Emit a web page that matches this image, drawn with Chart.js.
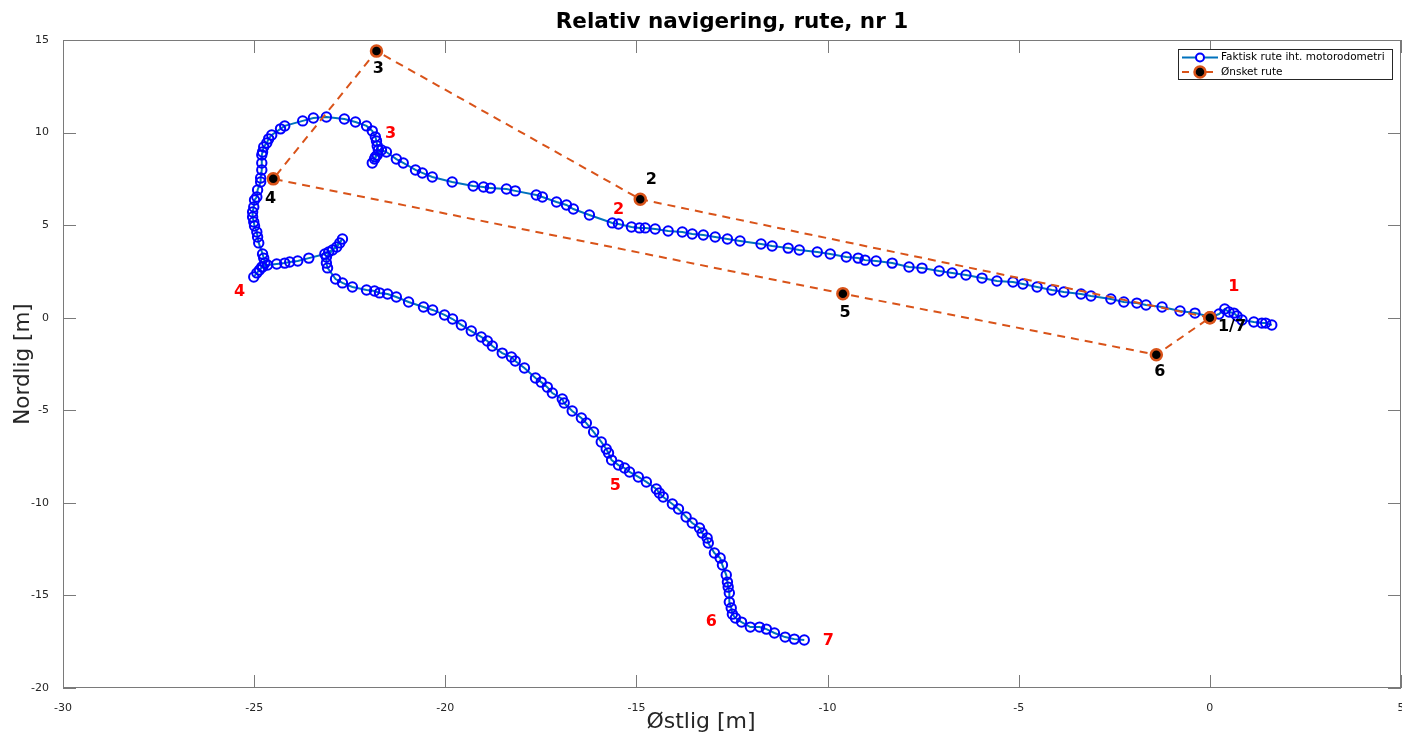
<!DOCTYPE html>
<html>
<head>
<meta charset="utf-8">
<script src="https://cdn.jsdelivr.net/npm/chart.js@4.4.1/dist/chart.umd.min.js"></script>
<style>
  html, body { margin: 0; padding: 0; background: #fff; }
  canvas { display: block; }
</style>
</head>
<body>
<canvas id="route" width="1402" height="738"></canvas>
<script>
// Faktisk rute fra motorodometri [m]
const actualEast = [
  1.62, 1.46, 1.36, 1.15, 0.84, 0.71, 0.63, 0.50, 0.39, 0.24,
  0.03, -0.39, -0.78, -1.25, -1.67, -1.91, -2.25, -2.59, -3.11, -3.37,
  -3.82, -4.13, -4.52, -4.89, -5.15, -5.57, -5.96, -6.38, -6.74, -7.08,
  -7.53, -7.87, -8.31, -8.73, -9.02, -9.20, -9.51, -9.93, -10.27, -10.74,
  -11.03, -11.45, -11.74, -12.29, -12.62, -12.94, -13.25, -13.54, -13.80, -14.17,
  -14.51, -14.77, -14.92, -15.13, -15.47, -15.63, -16.23, -16.65, -16.83, -17.09,
  -17.46, -17.62, -18.17, -18.40, -18.82, -19.00, -19.27, -19.82, -20.34, -20.60,
  -20.78, -21.10, -21.28, -21.54, -21.67, -21.78, -21.85, -21.91, -21.83, -21.75,
  -21.78, -21.80, -21.83, -21.91, -22.06, -22.35, -22.64, -23.11, -23.45, -23.73,
  -24.20, -24.31, -24.54, -24.62, -24.67, -24.75, -24.78, -24.80, -24.80, -24.80,
  -24.83, -24.83, -24.91, -24.93, -24.99, -25.01, -25.04, -25.04, -25.01, -24.99,
  -24.93, -24.91, -24.88, -24.78, -24.75, -24.72, -24.78, -24.86, -24.93, -25.01,
  -24.80, -24.65, -24.41, -24.20, -24.07, -23.86, -23.57, -23.15, -23.05, -22.95,
  -22.84, -22.76, -22.69, -23.11, -23.11, -23.08, -22.87, -22.69, -22.43, -22.06,
  -21.85, -21.72, -21.51, -21.28, -20.96, -20.57, -20.33, -20.02, -19.81, -19.58,
  -19.32, -19.06, -18.90, -18.77, -18.51, -18.27, -18.17, -17.93, -17.64, -17.49,
  -17.33, -17.20, -16.94, -16.89, -16.68, -16.44, -16.31, -16.12, -15.92, -15.79,
  -15.73, -15.65, -15.47, -15.31, -15.18, -14.95, -14.74, -14.48, -14.40, -14.30,
  -14.06, -13.90, -13.70, -13.54, -13.35, -13.28, -13.15, -13.12, -12.96, -12.81,
  -12.75, -12.65, -12.62, -12.60, -12.57, -12.57, -12.52, -12.49, -12.41, -12.25,
  -12.02, -11.78, -11.60, -11.39, -11.11, -10.87, -10.61
];
const actualNorth = [
  -0.39, -0.29, -0.29, -0.23, -0.12, 0.09, 0.25, 0.31, 0.47, 0.20,
  0.04, 0.25, 0.36, 0.58, 0.69, 0.79, 0.85, 1.01, 1.17, 1.28,
  1.39, 1.50, 1.66, 1.82, 1.93, 1.98, 2.14, 2.31, 2.42, 2.52,
  2.68, 2.74, 2.95, 3.06, 3.11, 3.22, 3.28, 3.44, 3.55, 3.66,
  3.76, 3.87, 3.98, 4.14, 4.25, 4.36, 4.47, 4.52, 4.63, 4.68,
  4.79, 4.85, 4.85, 4.90, 5.06, 5.12, 5.55, 5.87, 6.09, 6.25,
  6.52, 6.63, 6.85, 6.95, 7.00, 7.06, 7.11, 7.33, 7.60, 7.82,
  7.98, 8.36, 8.57, 8.95, 9.06, 8.79, 8.57, 8.36, 8.68, 9.06,
  9.28, 9.55, 9.77, 10.09, 10.36, 10.57, 10.73, 10.84, 10.79, 10.63,
  10.36, 10.20, 9.87, 9.66, 9.44, 9.22, 8.95, 8.79, 8.36, 7.98,
  7.55, 7.33, 6.90, 6.52, 6.36, 5.98, 5.71, 5.44, 5.17, 4.95,
  4.63, 4.36, 4.04, 3.44, 3.22, 2.95, 2.74, 2.58, 2.42, 2.20,
  2.74, 2.85, 2.90, 2.95, 3.01, 3.06, 3.22, 3.44, 3.55, 3.66,
  3.82, 4.04, 4.25, 3.28, 2.95, 2.69, 2.09, 1.88, 1.66, 1.50,
  1.44, 1.34, 1.28, 1.12, 0.85, 0.58, 0.42, 0.15, -0.07, -0.39,
  -0.72, -1.04, -1.26, -1.53, -1.91, -2.12, -2.34, -2.72, -3.26, -3.48,
  -3.75, -4.07, -4.39, -4.61, -5.04, -5.42, -5.69, -6.17, -6.71, -7.09,
  -7.31, -7.69, -7.96, -8.12, -8.33, -8.60, -8.87, -9.25, -9.47, -9.68,
  -10.06, -10.33, -10.76, -11.09, -11.36, -11.63, -11.90, -12.17, -12.71, -12.98,
  -13.36, -13.90, -14.28, -14.55, -14.87, -15.36, -15.68, -16.01, -16.22, -16.44,
  -16.71, -16.71, -16.82, -17.03, -17.25, -17.36, -17.41
];

// Ønsket rute, waypoint 1 -> 7
const plannedEast = [0, -14.9, -21.8, -24.5, -9.6, -1.4, 0];
const plannedNorth = [0, 6.4, 14.4, 7.5, 1.3, -2.0, 0];

// Nummer ved hvert ønsket waypoint (svart)
const plannedTags = ['1/7', '2', '3', '4', '5', '6'];
const plannedTagEast = [0.58, -14.61, -21.75, -24.57, -9.54, -1.31];
const plannedTagNorth = [-0.50, 7.44, 13.44, 6.41, 0.25, -2.93];

// Hvor roboten faktisk var ved hvert waypoint (rød)
const reachedTags = ['1', '2', '3', '4', '5', '6', '7'];
const reachedTagEast = [0.63, -15.47, -21.43, -25.38, -15.55, -13.04, -9.98];
const reachedTagNorth = [1.66, 5.81, 9.92, 1.39, -9.09, -16.44, -17.46];

const xTicks = [-30, -25, -20, -15, -10, -5, 0, 5];
const yTicks = [-20, -15, -10, -5, 0, 5, 10, 15];

const BLUE_LINE = '#0072BD';
const BLUE_MARK = '#0000FF';
const ORANGE = '#D95319';
const AXIS = '#262626';
const FONT = '"DejaVu Sans", sans-serif';

const toPoints = (xs, ys) => xs.map((v, i) => ({ x: v, y: ys[i] }));

// box around the axes with inward ticks on all four sides
const axesBox = {
  id: 'axesBox',
  afterDatasetsDraw(chart) {
    const { ctx, chartArea: a, scales: { x, y } } = chart;
    const len = 13;
    ctx.save();
    ctx.strokeStyle = '#7a7a7a';
    ctx.lineWidth = 1;
    ctx.strokeRect(a.left + 0.5, a.top + 0.5, a.right - a.left - 1, a.bottom - a.top - 1);
    ctx.beginPath();
    x.ticks.forEach(t => {
      const px = Math.round(x.getPixelForValue(t.value)) + 0.5;
      ctx.moveTo(px, a.bottom); ctx.lineTo(px, a.bottom - len);
      ctx.moveTo(px, a.top); ctx.lineTo(px, a.top + len);
    });
    y.ticks.forEach(t => {
      const py = Math.round(y.getPixelForValue(t.value)) + 0.5;
      ctx.moveTo(a.left, py); ctx.lineTo(a.left + len, py);
      ctx.moveTo(a.right, py); ctx.lineTo(a.right - len, py);
    });
    ctx.stroke();
    ctx.restore();
  }
};

// waypoint numbers, placed in data coordinates
const waypointTags = {
  id: 'waypointTags',
  afterDatasetsDraw(chart) {
    const { ctx, scales: { x, y } } = chart;
    ctx.save();
    ctx.textAlign = 'center';
    ctx.textBaseline = 'middle';
    ctx.font = 'bold 16px ' + FONT;
    ctx.fillStyle = '#000000';
    plannedTags.forEach((t, i) => {
      ctx.fillText(t, x.getPixelForValue(plannedTagEast[i]), y.getPixelForValue(plannedTagNorth[i]));
    });
    ctx.fillStyle = '#FF0000';
    reachedTags.forEach((t, i) => {
      ctx.fillText(t, x.getPixelForValue(reachedTagEast[i]), y.getPixelForValue(reachedTagNorth[i]));
    });
    ctx.restore();
  }
};

// title, axis labels and the legend box
const labels = {
  id: 'labels',
  afterDraw(chart) {
    const { ctx, chartArea: a } = chart;
    ctx.save();
    ctx.fillStyle = '#000000';
    ctx.textAlign = 'center';
    ctx.textBaseline = 'middle';
    ctx.font = 'bold 21.5px ' + FONT;
    ctx.fillText('Relativ navigering, rute, nr 1', (a.left + a.right) / 2, 22);

    ctx.fillStyle = AXIS;
    ctx.font = '22px ' + FONT;
    ctx.fillText('Østlig [m]', 701, 722);
    ctx.font = '21.5px ' + FONT;
    ctx.translate(23, (a.top + a.bottom) / 2);
    ctx.rotate(-Math.PI / 2);
    ctx.fillText('Nordlig [m]', 0, 0);
    ctx.restore();

    // legend
    const lx = 1178, ly = 49, lw = 214, lh = 30;
    ctx.save();
    ctx.fillStyle = '#ffffff';
    ctx.fillRect(lx, ly, lw, lh);
    ctx.strokeStyle = '#262626';
    ctx.lineWidth = 1;
    ctx.strokeRect(lx + 0.5, ly + 0.5, lw, lh);

    const rows = [
      { text: 'Faktisk rute iht. motorodometri', y: ly + 8.5 },
      { text: 'Ønsket rute', y: ly + 23 }
    ];
    // blue row
    ctx.strokeStyle = BLUE_LINE;
    ctx.lineWidth = 2;
    ctx.beginPath(); ctx.moveTo(lx + 4, rows[0].y); ctx.lineTo(lx + 40, rows[0].y); ctx.stroke();
    ctx.strokeStyle = BLUE_MARK;
    ctx.fillStyle = '#ffffff';
    ctx.beginPath(); ctx.arc(lx + 22, rows[0].y, 4, 0, Math.PI * 2); ctx.fill(); ctx.stroke();
    // orange row
    ctx.strokeStyle = ORANGE;
    ctx.setLineDash([7, 5]);
    ctx.beginPath(); ctx.moveTo(lx + 4, rows[1].y); ctx.lineTo(lx + 40, rows[1].y); ctx.stroke();
    ctx.setLineDash([]);
    ctx.fillStyle = '#000000';
    ctx.lineWidth = 2.5;
    ctx.beginPath(); ctx.arc(lx + 22, rows[1].y, 5.5, 0, Math.PI * 2); ctx.fill(); ctx.stroke();

    ctx.fillStyle = '#000000';
    ctx.font = '10.5px ' + FONT;
    ctx.textAlign = 'left';
    ctx.textBaseline = 'middle';
    rows.forEach(r => ctx.fillText(r.text, lx + 43, r.y));
    ctx.restore();
  }
};

new Chart(document.getElementById('route').getContext('2d'), {
  type: 'scatter',
  data: {
    datasets: [
      {
        label: 'Faktisk rute iht. motorodometri',
        data: toPoints(actualEast, actualNorth),
        showLine: true,
        borderColor: BLUE_LINE,
        borderWidth: 2,
        pointRadius: 4.7,
        pointBorderColor: BLUE_MARK,
        pointBackgroundColor: 'rgba(0,0,0,0)',
        pointBorderWidth: 2,
        order: 2
      },
      {
        label: 'Ønsket rute',
        data: toPoints(plannedEast, plannedNorth),
        showLine: true,
        borderColor: ORANGE,
        borderWidth: 2,
        borderDash: [8, 6],
        pointRadius: 5.5,
        pointBackgroundColor: '#000000',
        pointBorderColor: ORANGE,
        pointBorderWidth: 2.5,
        order: 1
      }
    ]
  },
  options: {
    responsive: false,
    animation: false,
    layout: { autoPadding: false, padding: { top: 40, right: 1, left: 0, bottom: 0 } },
    plugins: {
      legend: { display: false },
      tooltip: { enabled: false },
      title: { display: false }
    },
    scales: {
      x: {
        type: 'linear',
        min: -30,
        max: 5,
        afterBuildTicks: s => { s.ticks = xTicks.map(v => ({ value: v })); },
        afterFit: s => { s.height = 50; s.paddingLeft = 0; s.paddingRight = 0; },
        grid: { display: false },
        border: { display: false },
        ticks: { color: AXIS, font: { family: FONT, size: 11 }, padding: 6, maxRotation: 0, autoSkip: false }
      },
      y: {
        type: 'linear',
        min: -20,
        max: 15,
        afterBuildTicks: s => { s.ticks = yTicks.map(v => ({ value: v })); },
        afterFit: s => { s.width = 63; s.paddingTop = 0; s.paddingBottom = 0; },
        grid: { display: false },
        border: { display: false },
        ticks: { color: AXIS, font: { family: FONT, size: 11 }, padding: 6, autoSkip: false }
      }
    }
  },
  plugins: [axesBox, waypointTags, labels]
});
</script>
</body>
</html>
